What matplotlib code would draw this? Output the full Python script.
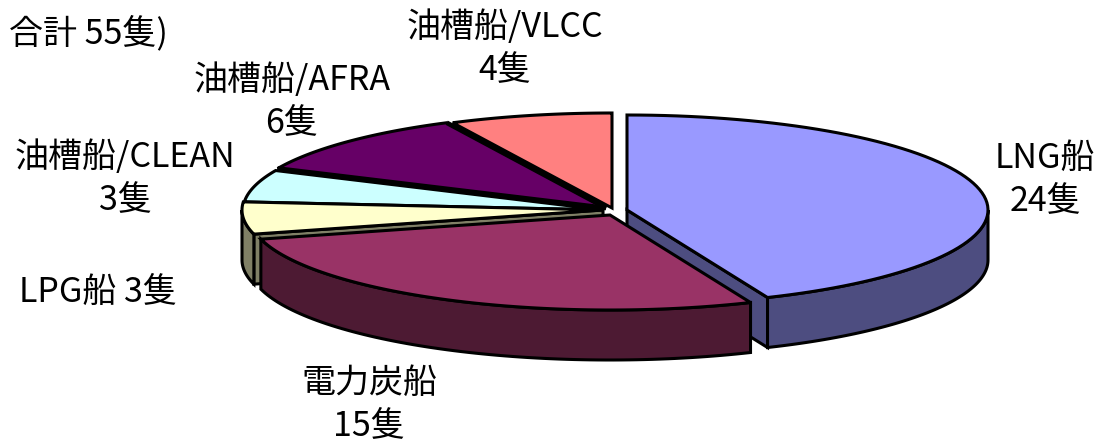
import numpy as np
import matplotlib
matplotlib.use("Agg")
import matplotlib.pyplot as plt

plt.rcParams["font.family"] = ["Noto Sans CJK JP", "DejaVu Sans"]

#Data (clockwise from 12 o'clock)
ship_types = ["LNG船", "電力炭船", "LPG船", "油槽船/CLEAN", "油槽船/AFRA", "油槽船/VLCC"]
ship_counts = [24, 15, 3, 3, 6, 4]
total_text = "合計 55隻)"

#Style
top_colors = ["#9999FF", "#993366", "#FFFFCC", "#CCFFFF", "#660066", "#FF8080"]
side_colors = ["#4D4D80", "#4D1A33", "#808066", "#668080", "#330033", "#804040"]
centers = [(627, 210), (610, 215), (603, 210), (604, 210), (606, 208), (612, 208)]
label_pos = [(1045, 180), (369, 405), (98, 292), (125, 179), (292, 102), (505, 49)]
rx, ry, depth = 361, 95, 50
edge = 2.2
font_size = 24.5

fig, ax = plt.subplots(figsize=(10.97, 4.43), dpi=100)
ax.set_position([0, 0, 1, 1])
ax.set_xlim(0, 1097)
ax.set_ylim(443, 0)
ax.axis("off")

#Slice angles from the counts
bounds = np.cumsum([0] + ship_counts) / sum(ship_counts) * 360


def rim(i, a, b):
    t = np.radians(np.linspace(a, b, 80))
    cx, cy = centers[i]
    return cx + rx * np.sin(t), cy - ry * np.cos(t)


def draw_top(i):
    x, y = rim(i, bounds[i], bounds[i + 1])
    cx, cy = centers[i]
    ax.fill(np.r_[cx, x], np.r_[cy, y], fc=top_colors[i], ec="black", lw=edge, joinstyle="miter")


def draw_side(i, a, b):
    x, y = rim(i, a, b)
    ax.fill(np.r_[x, x[::-1]], np.r_[y, y[::-1] + depth], fc=side_colors[i], ec="black", lw=edge)


def draw_cut(i, a):
    x, y = rim(i, a, a)
    cx, cy = centers[i]
    ax.fill([cx, x[0], x[0], cx], [cy, y[0], y[0] + depth, cy + depth],
            fc=side_colors[i], ec="black", lw=edge, joinstyle="miter")


#Back to front
draw_top(5)
draw_top(4)
for b in (bounds[4], bounds[5]):
    x, y = rim(4, b, b)
    ax.plot([centers[4][0], x[0]], [centers[4][1], y[0]], color="black", lw=3.4, solid_capstyle="butt")
draw_top(3)

draw_cut(2, bounds[2])
draw_side(2, bounds[2], 270)
draw_top(2)

draw_cut(0, bounds[1])
draw_side(0, 90, bounds[1])
draw_top(0)

draw_side(1, bounds[1], bounds[2])
draw_top(1)

#Labels
for i, name in enumerate(ship_types):
    sep = " " if name == "LPG船" else "\n"
    ax.text(label_pos[i][0], label_pos[i][1], f"{name}{sep}{ship_counts[i]}隻", fontsize=font_size,
            ha="center", va="center", linespacing=1.3, color="black")
ax.text(168, 33, total_text, fontsize=font_size, ha="right", va="center", color="black")

plt.savefig("out.png", dpi=100)
plt.close()
